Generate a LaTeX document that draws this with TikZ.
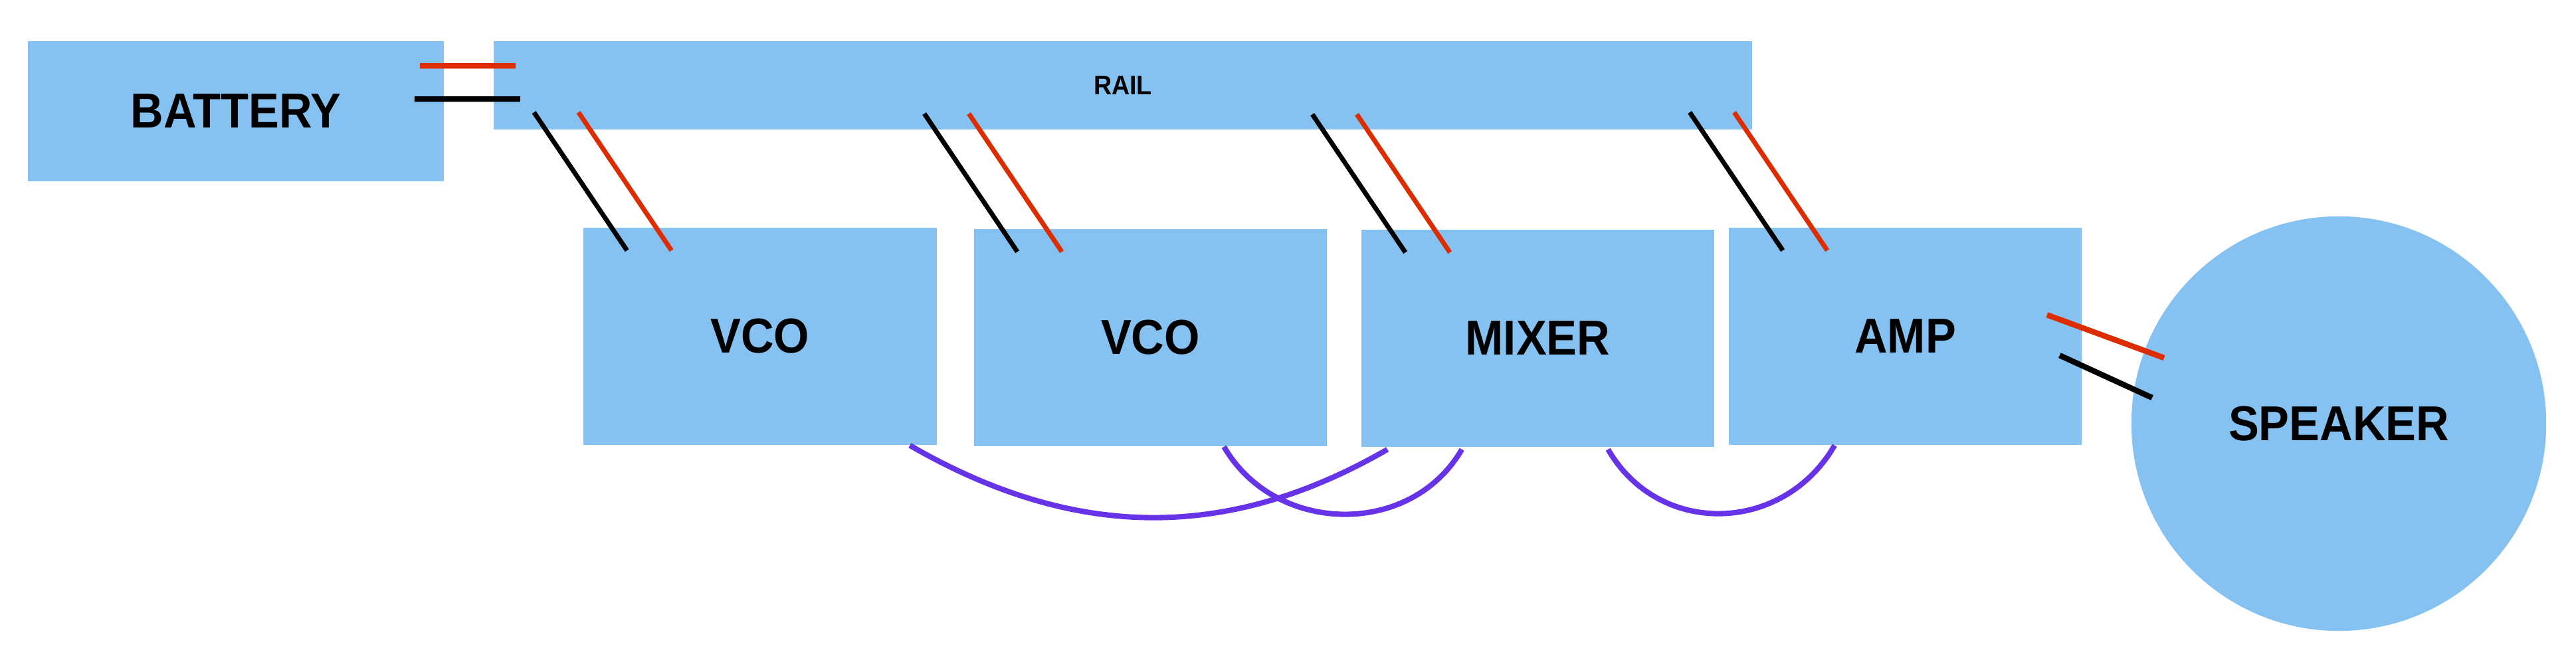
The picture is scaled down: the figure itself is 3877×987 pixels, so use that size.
\documentclass[tikz,border=0pt]{standalone}
\usepackage{fontspec}
\setmainfont{Liberation Sans}[FakeStretch=0.93]
\usepackage{xcolor}
\usepackage{tikz}
\usetikzlibrary{shapes,arrows}
\definecolor{boxblue}{HTML}{85C2F2}
\definecolor{wirered}{HTML}{DD2C00}
\definecolor{audiopurple}{HTML}{6733E8}

\begin{document}
\begin{tikzpicture}[x=0.01cm,y=-0.01cm,
  block/.style={fill=boxblue,inner sep=0pt,minimum width=5.31cm,minimum height=3.27cm,font=\fontsize{21}{24}\selectfont\bfseries},
  gndwire/.style={line width=2pt,black},
  hotwire/.style={line width=2pt,wirered},
  audio/.style={line width=2.3pt,audiopurple}]
\useasboundingbox (0,0) rectangle (3877,987);
\node[block,minimum width=6.26cm,minimum height=2.11cm] (battery) at (355,167.5) {BATTERY};
\node[block,minimum width=18.92cm,minimum height=1.33cm,font=\fontsize{11.5}{13}\selectfont\bfseries] (rail) at (1690,128.5) {RAIL};
\node[block] (vco1) at (1144,506.5) {VCO};
\node[block] (vco2) at (1731.5,508.5) {VCO};
\node[block] (mixer) at (2314.5,509.5) {MIXER};
\node[block] (amp) at (2867.5,506.5) {AMP};
\node[block,circle,minimum size=6.24cm] (speaker) at (3520,638) {SPEAKER};
% battery to rail
\draw[hotwire,line width=2.4pt] ([shift={(-37,38)}]battery.north east) -- ([shift={(33,38)}]rail.north west);
\draw[gndwire,line width=2.4pt] ([shift={(-45,88)}]battery.north east) -- ([shift={(40,88)}]rail.north west);
% rail to the blocks
\foreach \b/\dx in {vco1/66,vco2/66,mixer/67,amp/82}{
  \draw[gndwire] ([shift={(\dx,35)}]\b.north west) -- ++(-140,-208);
  \draw[hotwire] ([shift={(\dx+67,35)}]\b.north west) -- ++(-140,-208);
}
% amp to speaker
\draw[hotwire,line width=2.4pt] ([shift={(-53,132)}]amp.north east) -- ([shift={(-263,-99)}]speaker.center);
\draw[gndwire,line width=2.4pt] ([shift={(-34,193)}]amp.north east) -- ([shift={(-281,-39)}]speaker.center);
% audio
\draw[audio] ([shift={(-41,0)}]vco1.south east) .. controls +(244,141) and +(-244,141) .. ([shift={(40,3)}]mixer.south west);
\draw[audio] ([shift={(377,0)}]vco2.south west) .. controls +(77,133) and +(-77,133) .. ([shift={(152,3)}]mixer.south west);
\draw[audio] ([shift={(372,3)}]mixer.south west) .. controls +(77,133) and +(-77,133) .. ([shift={(160,0)}]amp.south west);
\end{tikzpicture}
\end{document}
